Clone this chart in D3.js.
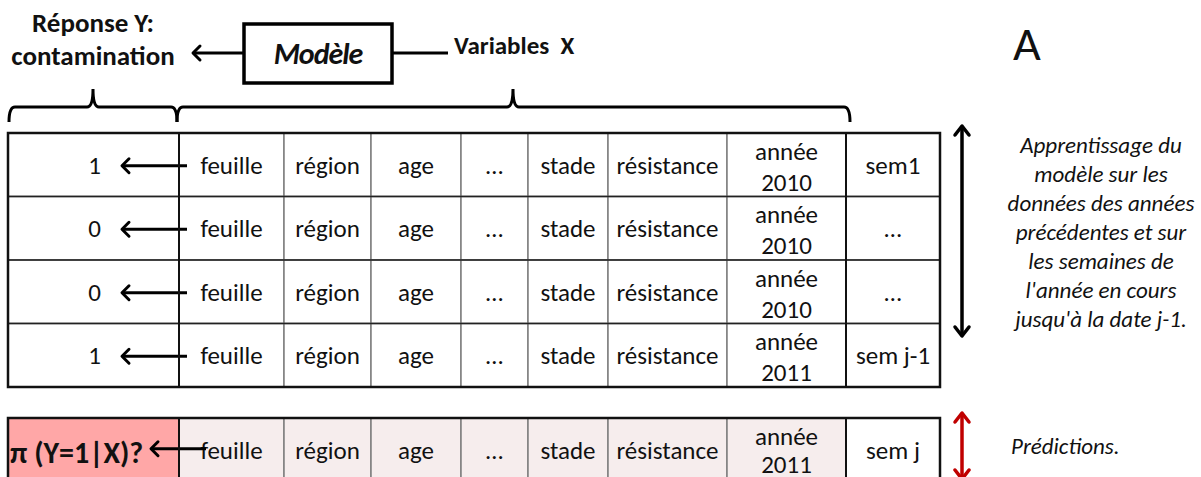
<!DOCTYPE html>
<html>
<head>
<meta charset="utf-8">
<script src="https://cdn.jsdelivr.net/npm/d3@7"></script>
<style>
  body { margin: 0; background: #fff; }
  svg text { font-family: Carlito, Lato, "Open Sans", sans-serif; fill: #111; white-space: pre; }
</style>
</head>
<body>
<div id="chart"></div>
<script>
// Training table: response Y per row, then the X variables
const yValues = ['1', '0', '0', '1'];
const featureNames = ['feuille', 'région', 'age', '…', 'stade', 'résistance'];
const yearLabel = 'année';
const trainYears = ['2010', '2010', '2010', '2011'];
const trainWeeks = ['sem1', '…', '…', 'sem j-1'];
// Prediction row
const predLabel = 'π (Y=1|X)?';
const predYear = '2011';
const predWeek = 'sem j';

const trainNote = ['Apprentissage du', 'modèle sur les', 'données des années',
  'précédentes et sur', 'les semaines de', "l'année en cours", "jusqu'à la date j-1."];
const predNote = 'Prédictions.';

// column widths (px) : Y, features..., année, sem
const colWidths = [171, 105, 87, 90, 67, 80, 119, 119, 94];

const W = 1201, H = 477;
const FS = 25; // table font size
const svg = d3.select('#chart').append('svg').attr('width', W).attr('height', H);

// column edges
const edges = [8];
colWidths.forEach(w => edges.push(edges[edges.length - 1] + w));
const colX = i => edges[i];

const rowY = d3.scaleBand().domain(d3.range(yValues.length)).range([133, 387]).paddingInner(0);
const predTop = 418, predH = rowY.bandwidth();

// ---------- header ----------
const head = svg.append('g');
head.append('text').attr('x', 93).attr('y', 32).attr('text-anchor', 'middle')
  .attr('font-weight', 'bold').attr('font-size', 27).text('Réponse Y:');
head.append('text').attr('x', 93).attr('y', 65).attr('text-anchor', 'middle')
  .attr('font-weight', 'bold').attr('font-size', 27).text('contamination');

function chevronLeft(g, x, y, s, color, w) {
  g.append('path').attr('d', `M${x + s},${y - s} L${x},${y} L${x + s},${y + s}`)
    .attr('fill', 'none').attr('stroke', color).attr('stroke-width', w)
    .attr('stroke-linecap', 'round').attr('stroke-linejoin', 'round');
}

// arrow from model box to response
head.append('line').attr('x1', 244).attr('x2', 193).attr('y1', 53).attr('y2', 53)
  .attr('stroke', '#000').attr('stroke-width', 3);
chevronLeft(head, 193, 53, 7, '#000', 3);

// model box
head.append('rect').attr('x', 244).attr('y', 24).attr('width', 148).attr('height', 59)
  .attr('fill', '#fff').attr('stroke', '#000').attr('stroke-width', 3.5);
head.append('text').attr('x', 318).attr('y', 64).attr('text-anchor', 'middle')
  .attr('font-family', '"DejaVu Serif", serif').attr('font-style', 'italic').attr('font-weight', 'bold')
  .attr('font-size', 30).attr('letter-spacing', -1).text('Modèle');

head.append('line').attr('x1', 392).attr('x2', 448).attr('y1', 53).attr('y2', 53)
  .attr('stroke', '#000').attr('stroke-width', 3);
head.append('text').attr('x', 454).attr('y', 54).attr('font-weight', 'bold').attr('font-size', 25)
  .text('Variables  X');

head.append('text').attr('x', 1027).attr('y', 60).attr('text-anchor', 'middle')
  .attr('font-size', 48).text('A');

// braces
function brace(x0, x1, tip) {
  const yl = 107, ye = 122, yt = 89, r = 6;
  return `M${x0},${ye} Q${x0},${yl} ${x0 + r},${yl} L${tip - r},${yl} Q${tip},${yl} ${tip},${yt}` +
    ` Q${tip},${yl} ${tip + r},${yl} L${x1 - r},${yl} Q${x1},${yl} ${x1},${ye}`;
}
head.append('path').attr('d', brace(9, 177, 93)).attr('fill', 'none').attr('stroke', '#000').attr('stroke-width', 3);
head.append('path').attr('d', brace(177, 850, 513)).attr('fill', 'none').attr('stroke', '#000').attr('stroke-width', 3);

// ---------- tables ----------
const nCols = colWidths.length;

function cellTexts(g, cx, top, h, lines) {
  const mid = top + h / 2;
  if (lines.length === 1) {
    g.append('text').attr('x', cx).attr('y', mid + 9).attr('text-anchor', 'middle')
      .attr('font-size', FS).text(lines[0]);
  } else {
    g.append('text').attr('x', cx).attr('y', mid - 5).attr('text-anchor', 'middle').attr('font-size', FS).text(lines[0]);
    g.append('text').attr('x', cx).attr('y', Math.min(mid + 26, H - 4)).attr('text-anchor', 'middle').attr('font-size', FS).text(lines[1]);
  }
}

function drawRow(g, top, h, yText, year, week, fills, isPred) {
  for (let c = 0; c < nCols; c++) {
    g.append('rect').attr('x', colX(c)).attr('y', top).attr('width', colWidths[c]).attr('height', h)
      .attr('fill', fills[c]).attr('stroke', '#7f7f7f').attr('stroke-width', 1.5);
  }
  featureNames.forEach((f, i) => {
    cellTexts(g, colX(i + 1) + colWidths[i + 1] / 2, top, h, [f]);
  });
  cellTexts(g, colX(7) + colWidths[7] / 2, top, h, [yearLabel, year]);
  cellTexts(g, colX(8) + colWidths[8] / 2, top, h, [week]);
  const mid = top + h / 2 + 1;
  if (isPred) {
    g.append('text').attr('x', 10).attr('y', mid + 12).attr('font-size', 30).attr('font-weight', 'bold').text(yText);
    g.append('line').attr('x1', 206).attr('x2', 151).attr('y1', mid - 2).attr('y2', mid - 2)
      .attr('stroke', '#000').attr('stroke-width', 3);
    chevronLeft(g, 151, mid - 2, 7, '#000', 3);
  } else {
    g.append('text').attr('x', 101).attr('y', mid + 8).attr('text-anchor', 'end').attr('font-size', FS).text(yText);
    g.append('line').attr('x1', 187).attr('x2', 122).attr('y1', mid).attr('y2', mid)
      .attr('stroke', '#000').attr('stroke-width', 3);
    chevronLeft(g, 122, mid, 7, '#000', 3);
  }
}

function frame(g, top, h) {
  g.append('rect').attr('x', 8).attr('y', top).attr('width', edges[nCols] - 8).attr('height', h)
    .attr('fill', 'none').attr('stroke', '#111').attr('stroke-width', 2.5);
  [1, 8].forEach(c => g.append('line').attr('x1', colX(c)).attr('x2', colX(c)).attr('y1', top).attr('y2', top + h)
    .attr('stroke', '#111').attr('stroke-width', 2));
}

const table = svg.append('g');
yValues.forEach((y, r) => {
  drawRow(table, rowY(r), rowY.bandwidth(), y, trainYears[r], trainWeeks[r], d3.range(nCols).map(() => '#fff'), false);
});
yValues.forEach((y, r) => {
  if (r > 0) table.append('line').attr('x1', 8).attr('x2', edges[nCols]).attr('y1', rowY(r)).attr('y2', rowY(r))
    .attr('stroke', '#222').attr('stroke-width', 1.5);
});
frame(table, 133, 387 - 133);

const pred = svg.append('g');
const predFills = ['#ffa7a7'].concat(d3.range(7).map(() => '#f6eded'), ['#fff']);
drawRow(pred, predTop, predH, predLabel, predYear, predWeek, predFills, true);
frame(pred, predTop, predH);

// ---------- side notes ----------
function doubleArrow(g, x, y0, y1, color, w) {
  g.append('line').attr('x1', x).attr('x2', x).attr('y1', y0 + 1).attr('y2', y1 - 1)
    .attr('stroke', color).attr('stroke-width', w);
  const s = 7;
  g.append('path').attr('d', `M${x - s},${y0 + s + 2} L${x},${y0} L${x + s},${y0 + s + 2}`)
    .attr('fill', 'none').attr('stroke', color).attr('stroke-width', w).attr('stroke-linecap', 'round').attr('stroke-linejoin', 'round');
  g.append('path').attr('d', `M${x - s},${y1 - s - 2} L${x},${y1} L${x + s},${y1 - s - 2}`)
    .attr('fill', 'none').attr('stroke', color).attr('stroke-width', w).attr('stroke-linecap', 'round').attr('stroke-linejoin', 'round');
}
const side = svg.append('g');
doubleArrow(side, 962, 126, 336, '#000', 3.5);
doubleArrow(side, 962, 413, 479, '#c00000', 3.5);

const lineY = d3.scaleLinear().domain([0, trainNote.length - 1]).range([153, 327]);
trainNote.forEach((t, i) => {
  side.append('text').attr('x', 1101).attr('y', lineY(i)).attr('text-anchor', 'middle')
    .attr('font-style', 'italic').attr('font-size', 23).text(t);
});
side.append('text').attr('x', 1011).attr('y', 454).attr('font-style', 'italic').attr('font-size', 23).text(predNote);
</script>
</body>
</html>
